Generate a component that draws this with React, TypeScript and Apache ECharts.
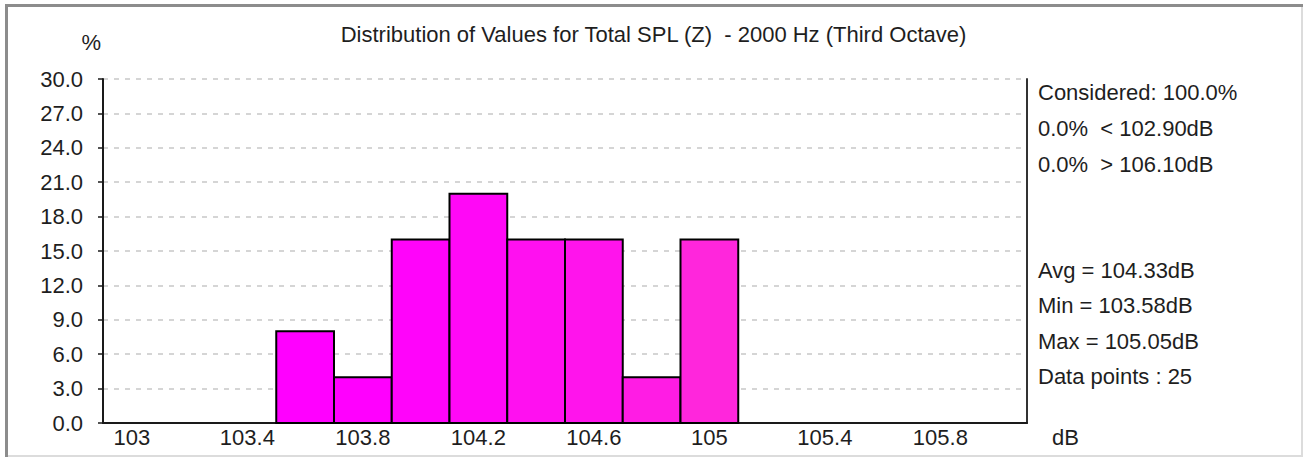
import React, { useEffect, useRef } from "react";
import * as echarts from "echarts";

const titleText = "Distribution of Values for Total SPL (Z)  - 2000 Hz (Third Octave)";
const binStart = [103.5, 103.7, 103.9, 104.1, 104.3, 104.5, 104.7, 104.9];
const binEnd = [103.7, 103.9, 104.1, 104.3, 104.5, 104.7, 104.9, 105.1];
const percentValues = [8, 4, 16, 20, 16, 16, 4, 16];
const barColors = ["#ff00ff", "#ff00fe", "#ff04fa", "#ff08f6", "#ff10f0", "#ff14ec", "#ff1ce4", "#ff26dc"];
const xTickValues = [103, 103.4, 103.8, 104.2, 104.6, 105, 105.4, 105.8];
const xMin = 102.9;
const xMax = 106.1;
const yMin = 0;
const yMax = 30;
const yStep = 3;
const statsTop = ["Considered: 100.0%", "0.0%  < 102.90dB", "0.0%  > 106.10dB"];
const statsBottom = ["Avg = 104.33dB", "Min = 103.58dB", "Max = 105.05dB", "Data points : 25"];

const FONT = "'Liberation Sans', Arial, sans-serif";
const TEXT_COLOR = "#1e1e1e";
const FS = 22;

export default function App() {
  const ref = useRef<HTMLDivElement>(null);
  useEffect(() => {
    if (!ref.current) return;
    const chart = echarts.init(ref.current, null, { renderer: "svg" });
    const data = binStart.map((s, i) => ({
      value: [s, binEnd[i], percentValues[i]],
      itemStyle: { color: barColors[i] },
    }));
    const statTexts: any[] = [];
    statsTop.forEach((t, i) => {
      statTexts.push({
        type: "text",
        left: 1038,
        top: 81 + i * 36,
        style: { text: t, fill: TEXT_COLOR, font: `${FS}px ${FONT}` },
      });
    });
    statsBottom.forEach((t, i) => {
      statTexts.push({
        type: "text",
        left: 1038,
        top: 259 + i * 35.5,
        style: { text: t, fill: TEXT_COLOR, font: `${FS}px ${FONT}` },
      });
    });
    chart.setOption({
      animation: false,
      backgroundColor: "#ffffff",
      textStyle: { fontFamily: FONT },
      title: {
        text: titleText,
        left: "center",
        top: 18,
        textStyle: { fontSize: FS, fontWeight: "normal", color: TEXT_COLOR, fontFamily: FONT },
      },
      grid: { left: 103, top: 79, width: 924, height: 344, containLabel: false },
      xAxis: {
        type: "value",
        min: xMin,
        max: xMax,
        name: "dB",
        nameLocation: "end",
        nameGap: 25,
        nameTextStyle: { fontSize: FS, color: TEXT_COLOR, align: "left", verticalAlign: "top", padding: [3, 0, 0, 0] },
        axisLine: { show: true, lineStyle: { color: "#1a1a1a", width: 2 } },
        axisTick: { show: false, customValues: xTickValues },
        axisLabel: {
          customValues: xTickValues,
          fontSize: FS,
          color: TEXT_COLOR,
          margin: 3,
          formatter: (v: number) => String(Math.round(v * 10) / 10),
        },
        splitLine: { show: false },
      },
      yAxis: [
        {
          type: "value",
          min: yMin,
          max: yMax,
          interval: yStep,
          name: "%",
          nameLocation: "end",
          nameGap: 26,
          nameTextStyle: { fontSize: FS, color: TEXT_COLOR, align: "right", padding: [0, 2, 0, 0] },
          axisLine: { show: true, lineStyle: { color: "#1a1a1a", width: 2 } },
          axisTick: { show: true, length: 5, inside: false, lineStyle: { color: "#1a1a1a", width: 1.5 } },
          axisLabel: {
            fontSize: FS,
            color: TEXT_COLOR,
            margin: 20,
            formatter: (v: number) => v.toFixed(1),
          },
          splitLine: { show: true, lineStyle: { color: "#c8c8c8", type: [5, 6], width: 1.5 } },
        },
        {
          type: "value",
          min: yMin,
          max: yMax,
          interval: yStep,
          position: "right",
          axisLine: { show: true, lineStyle: { color: "#333333", width: 2 } },
          axisTick: { show: false },
          axisLabel: { show: false },
          splitLine: { show: false },
        },
      ],
      series: [
        {
          type: "custom",
          xAxisIndex: 0,
          yAxisIndex: 0,
          encode: { x: [0, 1], y: 2 },
          data,
          renderItem: (params: any, api: any) => {
            const p0 = api.coord([api.value(0), 0]);
            const p1 = api.coord([api.value(1), api.value(2)]);
            return {
              type: "rect",
              shape: { x: p0[0], y: p1[1], width: p1[0] - p0[0], height: p0[1] - p1[1] },
              style: { fill: api.visual("color"), stroke: "#000000", lineWidth: 2 },
            };
          },
        },
      ],
      graphic: [
        { type: "line", shape: { x1: 6.5, y1: 4, x2: 6.5, y2: 457 }, style: { stroke: "#8c8c8c", lineWidth: 3 } },
        { type: "line", shape: { x1: 5, y1: 5.5, x2: 1303, y2: 5.5 }, style: { stroke: "#8c8c8c", lineWidth: 3 } },
        { type: "line", shape: { x1: 1302, y1: 7, x2: 1302, y2: 457 }, style: { stroke: "#dcdcdc", lineWidth: 2 } },
        { type: "line", shape: { x1: 8, y1: 456, x2: 1303, y2: 456 }, style: { stroke: "#dcdcdc", lineWidth: 2 } },
        ...statTexts,
      ],
    });
    return () => chart.dispose();
  }, []);
  return (
    <div
      ref={ref}
      style={{ position: "absolute", left: 0, top: 0, width: 1307, height: 459, background: "#fff" }}
    />
  );
}
